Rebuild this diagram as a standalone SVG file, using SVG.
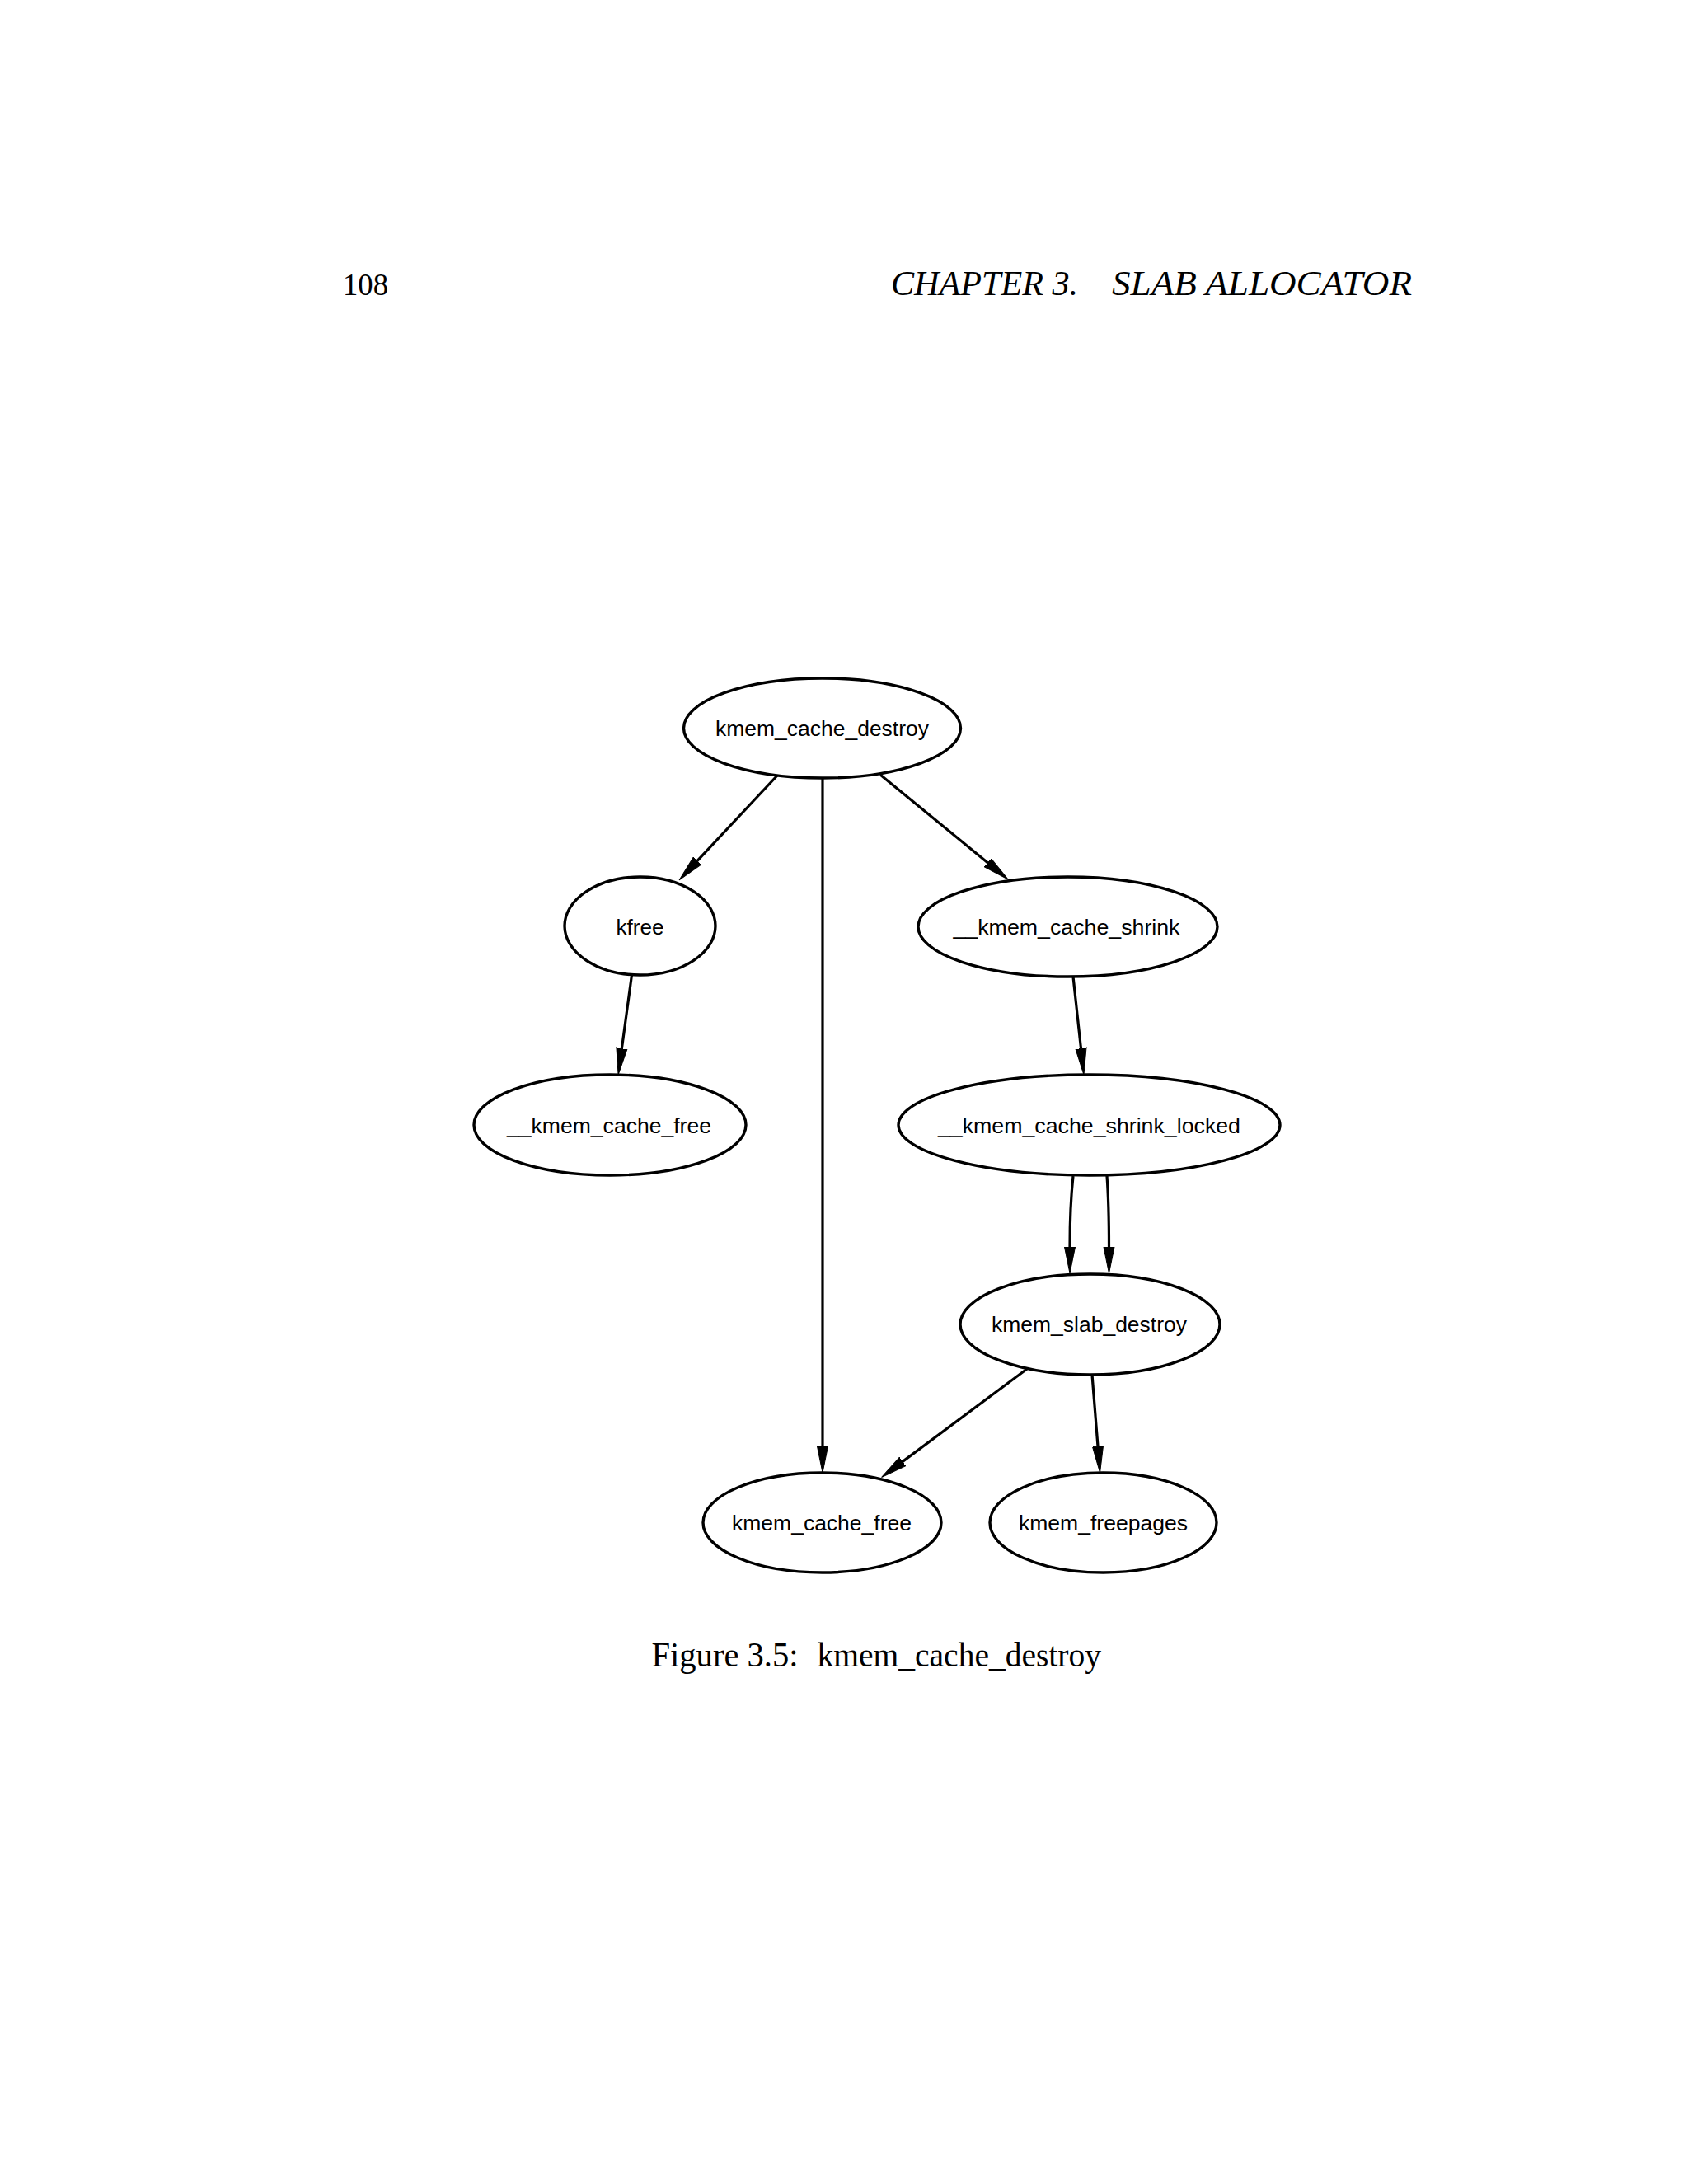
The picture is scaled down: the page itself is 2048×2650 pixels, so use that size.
<svg xmlns="http://www.w3.org/2000/svg" width="2048" height="2650" viewBox="0 0 2048 2650">
<style>
.node ellipse{fill:#fff;stroke:#000;stroke-width:3.4}
.node text{font-family:"Liberation Sans",Arial,Helvetica,sans-serif;font-size:26.5px;fill:#000;text-anchor:middle}
.edge{fill:none;stroke:#000;stroke-width:3.2}
.page{font-family:"Liberation Serif","Times New Roman",serif;fill:#000}
</style>
<defs>
<marker id="arr" markerUnits="userSpaceOnUse" markerWidth="33" markerHeight="15" viewBox="0 0 33 15" refX="0" refY="7.5" orient="auto">
<path d="M0,1 L32,7.5 L0,14 Z" fill="#000" stroke="#000" stroke-width="1"/>
</marker>
</defs>
<rect width="2048" height="2650" fill="#fff"/>
<text class="page" x="416" y="358" font-size="38" textLength="55" lengthAdjust="spacingAndGlyphs">108</text>
<text class="page" x="1081" y="358" font-size="42" font-style="italic" textLength="227" lengthAdjust="spacingAndGlyphs">CHAPTER 3.</text>
<text class="page" x="1349" y="358" font-size="42" font-style="italic" textLength="364" lengthAdjust="spacingAndGlyphs">SLAB ALLOCATOR</text>

<g id="connectors">
<path class="edge" marker-end="url(#arr)" d="M943,941 L845.9,1044.6"/>
<path class="edge" marker-end="url(#arr)" d="M998,944 L998,1755"/>
<path class="edge" marker-end="url(#arr)" d="M1068,940 L1198.3,1046.7"/>
<path class="edge" marker-end="url(#arr)" d="M766.5,1183 L754.4,1272.3"/>
<path class="edge" marker-end="url(#arr)" d="M1302,1185 L1311.5,1272.2"/>
<path class="edge" marker-end="url(#arr)" d="M1302,1427 C1299,1455 1298,1485 1298,1513"/>
<path class="edge" marker-end="url(#arr)" d="M1343,1427 C1345,1455 1345.5,1485 1345.5,1513"/>
<path class="edge" marker-end="url(#arr)" d="M1246,1661 L1095.2,1773.4"/>
<path class="edge" marker-end="url(#arr)" d="M1325,1668 L1332,1755"/>
</g>

<g id="kmem_cache_destroy" class="node"><ellipse cx="997.5" cy="883.5" rx="168" ry="60.5"/><text x="997.5" y="893" textLength="259" lengthAdjust="spacingAndGlyphs">kmem_cache_destroy</text></g>
<g id="kfree" class="node"><ellipse cx="776.5" cy="1123.5" rx="91.5" ry="59.5"/><text x="776.5" y="1133.5" textLength="58" lengthAdjust="spacingAndGlyphs">kfree</text></g>
<g id="__kmem_cache_shrink" class="node"><ellipse cx="1295.5" cy="1124.5" rx="181.5" ry="60.5"/><text x="1294" y="1134" textLength="275" lengthAdjust="spacingAndGlyphs">__kmem_cache_shrink</text></g>
<g id="__kmem_cache_free" class="node"><ellipse cx="740" cy="1365" rx="165" ry="61"/><text x="739" y="1374.5" textLength="248" lengthAdjust="spacingAndGlyphs">__kmem_cache_free</text></g>
<g id="__kmem_cache_shrink_locked" class="node"><ellipse cx="1321.5" cy="1365" rx="231.5" ry="61"/><text x="1321.5" y="1374.5" textLength="367" lengthAdjust="spacingAndGlyphs">__kmem_cache_shrink_locked</text></g>
<g id="kmem_slab_destroy" class="node"><ellipse cx="1322.5" cy="1607" rx="157.5" ry="61"/><text x="1321.5" y="1616" textLength="237" lengthAdjust="spacingAndGlyphs">kmem_slab_destroy</text></g>
<g id="kmem_cache_free" class="node"><ellipse cx="997.5" cy="1847.5" rx="144.5" ry="60.5"/><text x="997" y="1857" textLength="218" lengthAdjust="spacingAndGlyphs">kmem_cache_free</text></g>
<g id="kmem_freepages" class="node"><ellipse cx="1338.5" cy="1847.5" rx="137.5" ry="60.5"/><text x="1338.5" y="1857" textLength="205" lengthAdjust="spacingAndGlyphs">kmem_freepages</text></g>

<text class="page" x="790.5" y="2021.5" font-size="43" textLength="178" lengthAdjust="spacingAndGlyphs">Figure 3.5:</text>
<text class="page" x="991.5" y="2021.5" font-size="43" textLength="344.5" lengthAdjust="spacingAndGlyphs">kmem_cache_destroy</text>
</svg>
